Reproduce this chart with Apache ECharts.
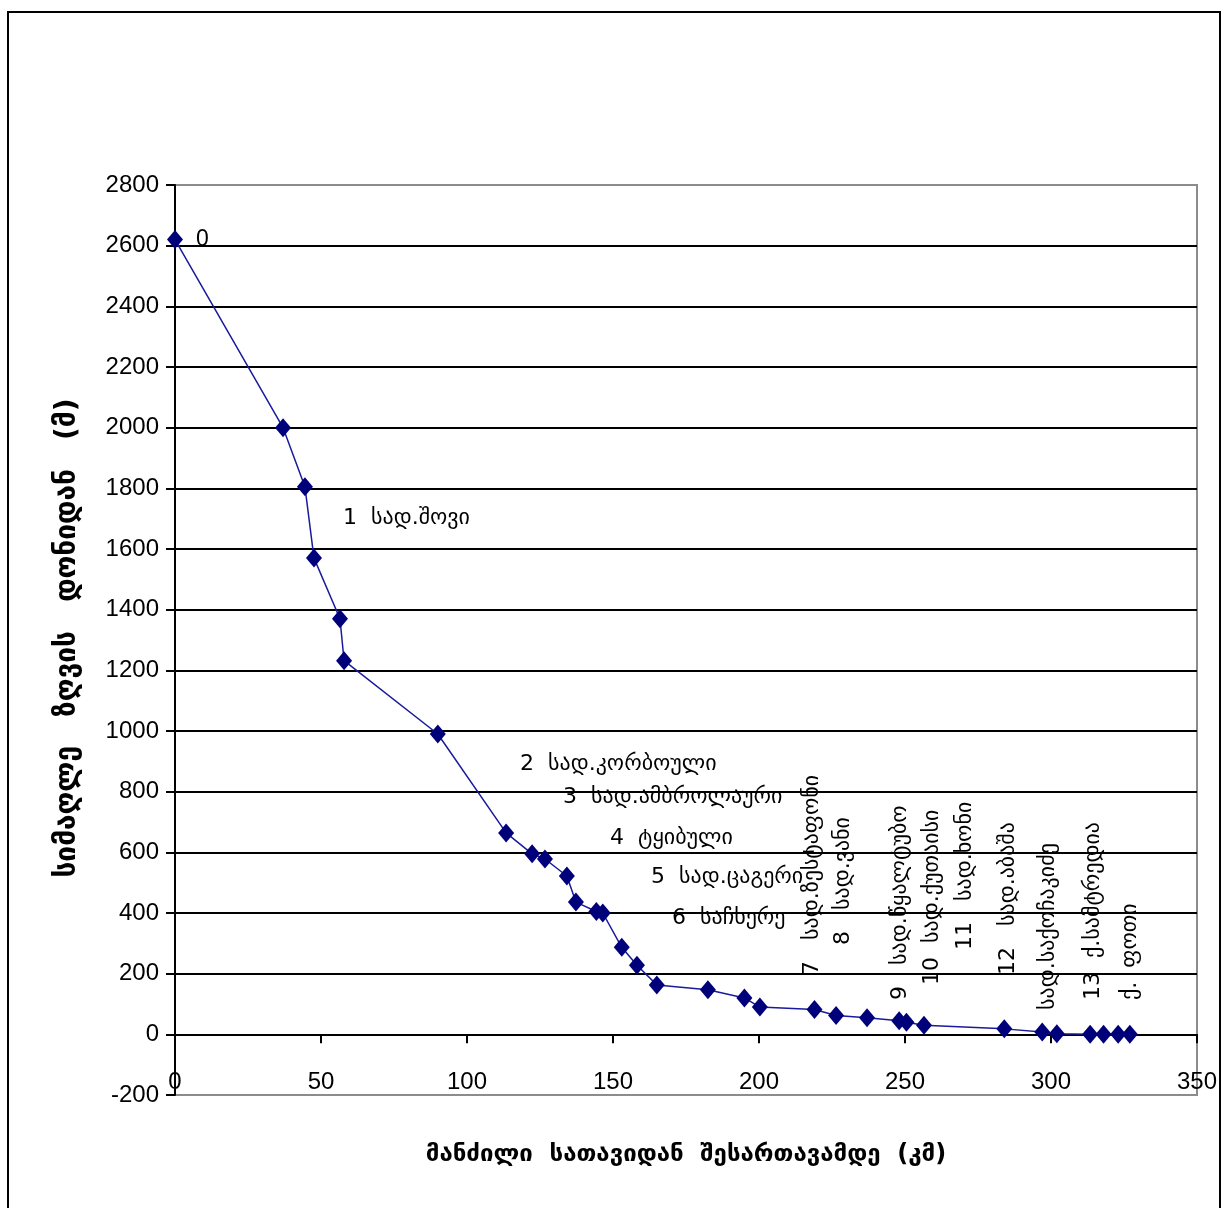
<!DOCTYPE html>
<html>
<head>
<meta charset="utf-8">
<script src="https://cdn.jsdelivr.net/npm/echarts@6/dist/echarts.min.js"></script>
<style>
  html, body { margin: 0; padding: 0; background: #fff; }
  #chart { width: 1222px; height: 1208px; }
</style>
</head>
<body>
<div id="chart"></div>
<script>
// River longitudinal profile: distance from source (km) vs. elevation (m)
const distanceKm = [0, 37, 44.5, 47.6, 56.5, 57.9, 90, 113.4, 122.3, 126.7, 134.2, 137.3,
  144.3, 146.5, 153, 158.2, 165, 182.5, 195, 200.3, 219, 226.4, 237, 248, 250.5, 256.5,
  284, 297, 302, 313.4, 318, 323, 327];
const elevationM = [2620, 2000, 1805, 1570, 1370, 1232, 990, 664, 595, 578, 522, 436,
  405, 400, 287, 228, 163, 147, 120, 90, 82, 62, 55, 45, 40, 30,
  18, 8, 2, 0, 0, 0, 0];

// Station captions along the profile
const stationLabels = [
  '0',
  '1  სად.შოვი',
  '2  სად.კორბოული',
  '3  სად.ამბროლაური',
  '4  ტყიბული',
  '5  სად.ცაგერი',
  '6  საჩხერე'
];
const verticalLabels = [
  '7   სად.ზესტაფონი',
  '8   სად.ვანი',
  '9   სად.წყალტუბო',
  '10  სად.ქუთაისი',
  '11   სად.ხონი',
  '12   სად.აბაშა',
  'სად.საქოჩაკიძე',
  '13  ქ.სამტრედია',
  'ქ.  ფოთი'
];

const yAxisTitle = 'სიმაღლე   ზღვის   დონიდან   (მ)';
const xAxisTitle = 'მანძილი  სათავიდან  შესართავამდე  (კმ)';

const chart = echarts.init(document.getElementById('chart'), null, { renderer: 'canvas' });

const labelFont = '"DejaVu Sans", sans-serif';
const labelSize = 22;

// placement of horizontal captions (left edge, vertical centre)
const hPos = [[196, 240], [343, 518], [520, 764], [563, 797], [610, 838], [651, 877], [672, 918]];
// placement of rotated captions (centre x, bottom y)
const vPos = [[812, 975], [843, 945], [900, 1000], [932, 985], [965, 950], [1008, 975],
  [1048, 1010], [1093, 1000], [1130, 1000]];

const graphics = [];
graphics.push({
  type: 'rect',
  shape: { x: 8, y: 12, width: 1212, height: 1210 },
  style: { fill: 'none', stroke: '#000', lineWidth: 2 },
  silent: true,
  z: 100
});
stationLabels.forEach((t, i) => {
  graphics.push({
    type: 'text',
    x: hPos[i][0], y: hPos[i][1],
    style: {
      text: t,
      font: (i === 0 ? '23px "Liberation Sans", sans-serif' : labelSize + 'px ' + labelFont),
      fill: '#000',
      textAlign: 'left',
      textVerticalAlign: 'middle'
    },
    z: 50
  });
});
verticalLabels.forEach((t, i) => {
  graphics.push({
    type: 'text',
    x: vPos[i][0], y: vPos[i][1],
    rotation: Math.PI / 2,
    style: {
      text: t,
      font: labelSize + 'px ' + labelFont,
      fill: '#000',
      textAlign: 'left',
      textVerticalAlign: 'middle'
    },
    z: 50
  });
});
graphics.push({
  type: 'text',
  x: 68, y: 638,
  rotation: Math.PI / 2,
  style: {
    text: yAxisTitle,
    font: 'bold 28px ' + labelFont,
    fill: '#000',
    textAlign: 'center',
    textVerticalAlign: 'middle'
  }
});
graphics.push({
  type: 'text',
  x: 686, y: 1155,
  style: {
    text: xAxisTitle,
    font: 'bold 24px ' + labelFont,
    fill: '#000',
    textAlign: 'center',
    textVerticalAlign: 'middle'
  }
});

const option = {
  backgroundColor: '#fff',
  animation: false,
  grid: {
    left: 175, right: 25, top: 185, bottom: 113,
    show: true,
    borderColor: '#8c8c8c',
    borderWidth: 2,
    backgroundColor: '#fff'
  },
  xAxis: {
    type: 'value',
    min: 0, max: 350, interval: 50,
    axisLine: { onZero: true, lineStyle: { color: '#000', width: 2 } },
    axisTick: { show: true, inside: false, length: 9, lineStyle: { color: '#000', width: 2 } },
    axisLabel: {
      color: '#000', fontSize: 24, margin: -25,
      fontFamily: '"Liberation Sans", Arial, sans-serif'
    },
    splitLine: { show: false }
  },
  yAxis: {
    type: 'value',
    min: -200, max: 2800, interval: 200,
    axisLine: { show: true, lineStyle: { color: '#000', width: 2 } },
    axisTick: { show: true, inside: false, length: 9, lineStyle: { color: '#000', width: 2 } },
    axisLabel: {
      color: '#000', fontSize: 24, margin: 16,
      fontFamily: '"Liberation Sans", Arial, sans-serif',
      formatter: v => String(v)
    },
    splitLine: {
      show: true,
      showMinLine: false,
      showMaxLine: false,
      lineStyle: { color: '#000', width: 2 }
    }
  },
  series: [{
    type: 'line',
    data: distanceKm.map((d, i) => [d, elevationM[i]]),
    symbol: 'diamond',
    symbolSize: [16, 19],
    showAllSymbol: true,
    lineStyle: { color: '#1a1a9c', width: 1.5 },
    itemStyle: { color: '#00007a', borderWidth: 0 },
    z: 10
  }],
  graphic: graphics
};

chart.setOption(option);
</script>
</body>
</html>
